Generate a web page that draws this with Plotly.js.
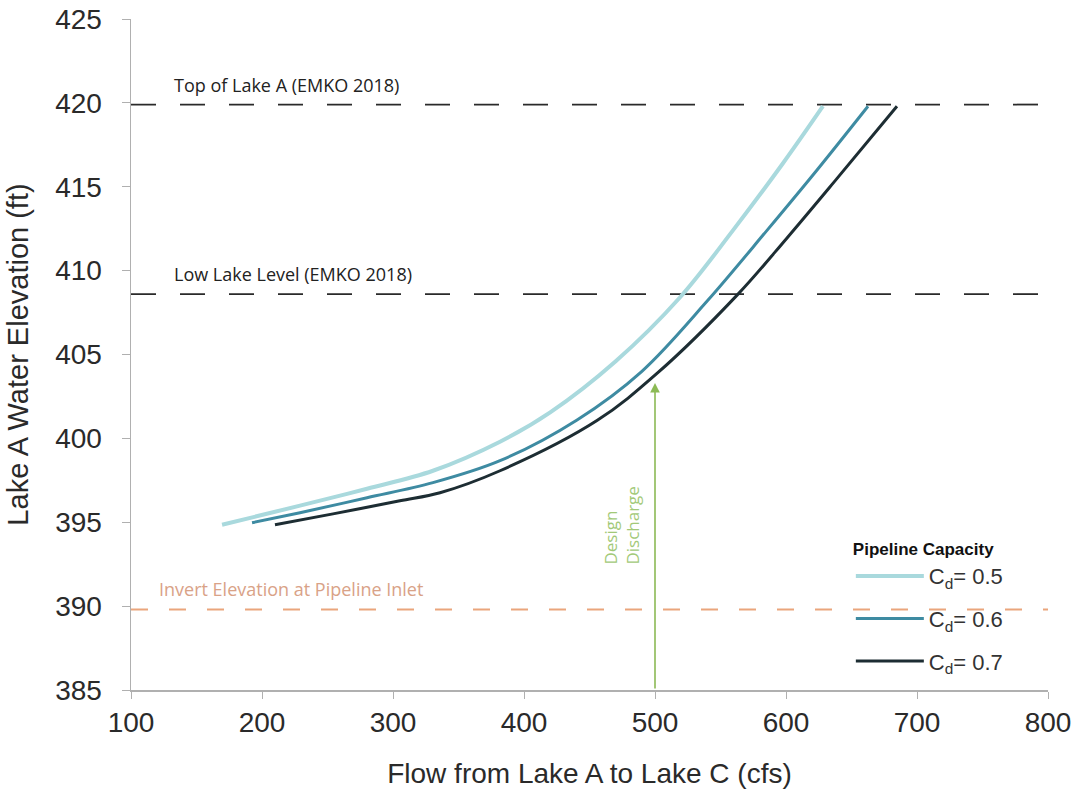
<!DOCTYPE html>
<html>
<head>
<meta charset="utf-8">
<script src="https://cdn.plot.ly/plotly-3.0.1.min.js"></script>
<style>html,body{margin:0;padding:0;background:#fff;}#chart{width:1076px;height:794px;}</style>
</head>
<body>
<div id="chart"></div>
<script>
// Flow (cfs) and Lake A elevation (ft) for each discharge coefficient
const flow05 = [169.5, 229, 280.2, 330.5, 381.7, 420, 470, 519, 559.5, 597.7, 628.2];
const elev05 = [394.85, 395.99, 397.0, 398.07, 399.8, 401.55, 404.6, 408.4, 412.4, 416.4, 419.8];
const flow06 = [192.4, 229, 280.2, 330.5, 381.7, 440.5, 490, 540, 585.5, 623.7, 662.6];
const elev06 = [394.97, 395.57, 396.46, 397.36, 398.67, 401.1, 404.0, 408.2, 412.4, 416.0, 419.8];
const flow07 = [209.9, 254.2, 305.3, 335.9, 381.7, 455.7, 501.5, 563.4, 600.8, 639, 684.7];
const elev07 = [394.85, 395.5, 396.28, 396.76, 398.07, 401.06, 403.87, 408.6, 411.95, 415.5, 419.8];
const seriesNames = ["C<sub>d</sub>= 0.5", "C<sub>d</sub>= 0.6", "C<sub>d</sub>= 0.7"];

// Reference levels
const topOfLake = 419.9;
const lowLakeLevel = 408.6;
const invertElevation = 389.8;
const refLabels = ["Top of Lake A (EMKO 2018)", "Low Lake Level (EMKO 2018)", "Invert Elevation at Pipeline Inlet"];
const designDischarge = 500;
const designElev = 403.3;
const xRange = [100, 800];
const yRange = [385, 425];
const xTicks = [100, 200, 300, 400, 500, 600, 700, 800];
const yTicks = [385, 390, 395, 400, 405, 410, 415, 420, 425];

const labelFont = {family: "Open Sans, sans-serif", size: 18, color: "#222"};

const traces = [
  {x: xRange, y: [topOfLake, topOfLake], mode: "lines", showlegend: false, hoverinfo: "skip",
   line: {color: "#2a2a2a", width: 1.8, dash: "25px,24px"}},
  {x: xRange, y: [lowLakeLevel, lowLakeLevel], mode: "lines", showlegend: false, hoverinfo: "skip",
   line: {color: "#2a2a2a", width: 1.8, dash: "25px,24px"}},
  {x: xRange, y: [invertElevation, invertElevation], mode: "lines", showlegend: false, hoverinfo: "skip",
   line: {color: "#eaa57c", width: 1.8, dash: "17px,21px"}},
  {x: flow05, y: elev05, mode: "lines", name: seriesNames[0], legendgroup: "a",
   line: {color: "#a9d9dd", width: 4, shape: "spline", smoothing: 1}},
  {x: flow06, y: elev06, mode: "lines", name: seriesNames[1], legendgroup: "b",
   line: {color: "#3e8ba2", width: 3, shape: "spline", smoothing: 1}},
  {x: flow07, y: elev07, mode: "lines", name: seriesNames[2], legendgroup: "c",
   line: {color: "#1d2d33", width: 3, shape: "spline", smoothing: 1}}
];

const layout = {
  width: 1076, height: 794,
  margin: {l: 131, r: 28, t: 19, b: 104},
  paper_bgcolor: "#ffffff", plot_bgcolor: "#ffffff",
  font: {family: "Liberation Sans, Arial, sans-serif", color: "#222"},
  xaxis: {
    range: xRange, tickvals: xTicks, showgrid: false, zeroline: false,
    showline: true, linecolor: "#b0b0b0", linewidth: 1.5,
    ticks: "outside", ticklen: 7, tickcolor: "#b0b0b0",
    tickfont: {size: 28, color: "#2a2a2a"},
    title: {text: "Flow from Lake A to Lake C (cfs)", font: {size: 28, color: "#2a2a2a"}, standoff: 26}
  },
  yaxis: {
    range: yRange, tickvals: yTicks, showgrid: false, zeroline: false,
    showline: true, linecolor: "#b0b0b0", linewidth: 1.5,
    ticks: "outside", ticklen: 8, tickcolor: "#b0b0b0", ticklabelstandoff: 14,
    tickfont: {size: 28, color: "#2a2a2a"},
    title: {text: "Lake A Water Elevation (ft)", font: {size: 29, color: "#2a2a2a"}, standoff: 18}
  },
  showlegend: true,
  legend: {
    x: 0.785, y: 0.234, xanchor: "left", yanchor: "top",
    bgcolor: "rgba(0,0,0,0)",
    font: {size: 22, color: "#333"},
    title: {text: "<b>Pipeline Capacity</b>", font: {size: 17, color: "#111"}},
    tracegroupgap: 11, itemwidth: 68
  },
  annotations: [
    {x: 131, y: topOfLake, xref: "x", yref: "y", text: refLabels[0], showarrow: false,
     xanchor: "left", yanchor: "bottom", yshift: 6, font: labelFont},
    {x: 131, y: lowLakeLevel, xref: "x", yref: "y", text: refLabels[1], showarrow: false,
     xanchor: "left", yanchor: "bottom", yshift: 6, font: labelFont},
    {x: 120, y: invertElevation, xref: "x", yref: "y", text: refLabels[2], showarrow: false,
     xanchor: "left", yanchor: "bottom", yshift: 6, font: {family: "Open Sans, sans-serif", size: 18, color: "#d9a287"}},
    {x: designDischarge, y: designElev, ax: designDischarge, ay: yRange[0], xref: "x", yref: "y",
     axref: "x", ayref: "y", text: "", showarrow: true, arrowhead: 2, arrowsize: 1.2, arrowwidth: 1.6,
     arrowcolor: "#8cba55"},
    {x: designDischarge, y: 394.8, xref: "x", yref: "y", xshift: -33, text: "Design<br>Discharge",
     showarrow: false, textangle: -90, align: "left",
     font: {family: "Open Sans, sans-serif", size: 17, color: "#a2c978"}}
  ]
};

Plotly.newPlot("chart", traces, layout, {staticPlot: true, displayModeBar: false});
</script>
</body>
</html>
